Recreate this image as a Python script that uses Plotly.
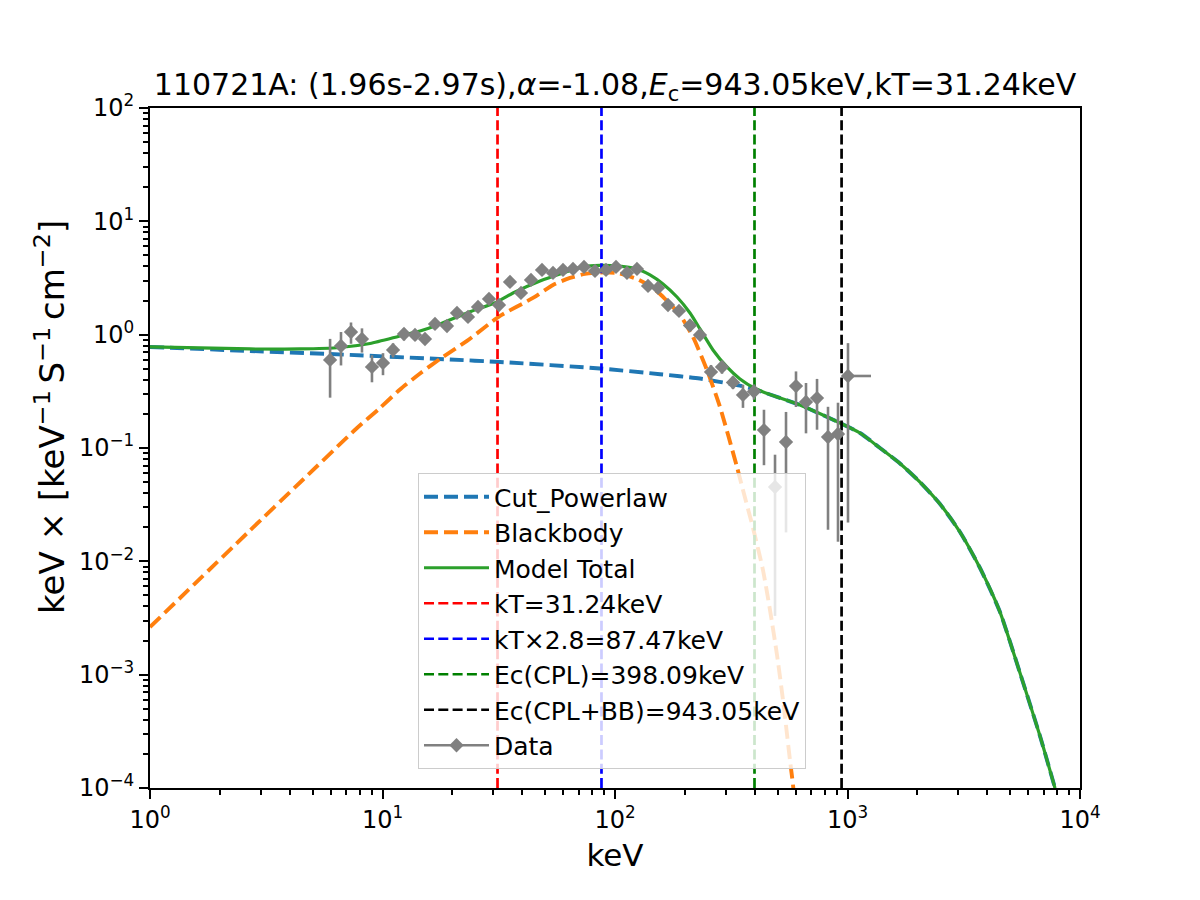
import plotly.graph_objects as go

# ---------------- data ----------------
data_x = [5.95, 6.63, 7.32, 8.16, 9.01, 10.05, 11.10, 12.37, 13.80, 15.23,
          16.82, 18.94, 20.91, 23.32, 25.75, 28.71, 31.70, 35.35, 39.41, 43.52,
          48.53, 54.12, 59.76, 65.98, 73.57, 82.03, 91.47, 101.0, 112.6, 124.3,
          138.7, 153.1, 169.0, 188.5, 210.2, 232.0, 258.8, 288.5, 321.7, 355.2,
          396.1, 437.3, 487.8, 543.9, 600.5, 663.0, 739.5, 824.5, 910.2, 1005.0]
data_y = [0.598, 0.795, 1.056, 0.916, 0.519, 0.563, 0.733, 1.014, 0.994, 0.916,
          1.243, 1.193, 1.554, 1.433, 1.756, 2.066, 1.828, 2.918, 2.333, 3.040,
          3.724, 3.505, 3.724, 3.801, 3.959, 3.650, 3.724, 3.959, 3.505, 3.801,
          2.691, 2.584, 1.828, 1.619, 1.206, 0.994, 0.469, 0.519, 0.379, 0.294,
          0.315, 0.144, 0.0453, 0.113, 0.352, 0.2547, 0.276, 0.125, 0.1329, 0.432]
data_yerr = [0.32, 0.26, 0.225, 0.221, 0.139, 0.124, 0.105, 0.124, 0.10, 0.09,
             0.08, 0.08, 0.09, 0.09, 0.10, 0.10, 0.10, 0.12, 0.12, 0.12,
             0.13, 0.13, 0.13, 0.13, 0.14, 0.14, 0.14, 0.15, 0.15, 0.16,
             0.15, 0.16, 0.14, 0.14, 0.10, 0.10, 0.07, 0.066, 0.048, 0.068,
             0.048, 0.0735, 0.042, 0.095, 0.122, 0.12, 0.131, 0.106, 0.118, 0.41]
data_xerr_plus = [0]*49 + [257.0]
data_xerr_minus = [0]*49 + [50.0]

cpl_x = [1, 2.692, 5.946, 19.51, 32.02, 86.19, 156.2, 232.0, 344.8, 396.1,
         624.6, 928.4, 1132, 1380, 1682, 2050, 2500, 3048, 3715, 4529, 5521, 6730, 7808]
cpl_y = [0.779, 0.718, 0.675, 0.604, 0.574, 0.503, 0.448, 0.410, 0.355, 0.330,
         0.2395, 0.1662, 0.1356, 0.100, 0.0730, 0.0501, 0.03203, 0.01814, 0.008729,
         0.003568, 0.001033, 2.871e-4, 9.98e-5]

bb_x = [1, 2.692, 4.418, 7.77, 9.755, 11.89, 14.50, 18.03, 23.09, 32.02, 44.39, 54.12, 64.03,
        74.30, 86.19, 102.0, 124.3, 141.4, 156.2, 172.4, 190.4, 216.5, 248.7,
        282.9, 334.7, 355.2, 392.3, 433.0, 464.2, 497.6, 528.0, 565.7, 583.0, 606.5]
bb_y = [0.00263, 0.01874, 0.0496, 0.1501, 0.2254, 0.3283, 0.4545, 0.6291, 0.8799, 1.462,
        2.109, 2.746, 3.166, 3.434, 3.540, 3.505, 3.102, 2.691, 2.287, 1.866, 1.492,
        0.9543, 0.4881, 0.2301, 0.06797, 0.04259, 0.01967, 0.008378, 0.003716,
        0.001490, 5.97e-4, 1.763e-4, 1.060e-4, 4.71e-5]

tot_x = [1, 2.692, 4.418, 6.565, 8.837, 11.89, 14.50, 17.68, 23.09, 31.08,
         36.42, 47.58, 57.99, 72.85, 86.19, 102.0, 124.3, 141.4, 160.9, 184.8,
         210.2, 232.0, 263.9, 303.1, 344.8, 400.1, 464.2, 624.6, 928.4, 1132, 1380,
         1682, 2050, 2500, 3048, 3715, 4529, 5521, 6730, 7808]
tot_y = [0.779, 0.748, 0.748, 0.771, 0.836, 0.974, 1.078, 1.243, 1.554, 1.944,
         2.334, 2.978, 3.434, 3.959, 4.081, 4.040, 3.801, 3.365, 2.803, 2.151,
         1.554, 1.123, 0.733, 0.519, 0.406, 0.335, 0.2967, 0.2395, 0.1662, 0.1356, 0.100,
         0.0730, 0.0501, 0.03203, 0.01814, 0.008729, 0.003568, 0.001033, 2.871e-4, 9.98e-5]

vlines = [
    (31.24, "kT=31.24keV", "#ff0000"),
    (87.47, "kT×2.8=87.47keV", "#0000ff"),
    (398.09, "Ec(CPL)=398.09keV", "#008000"),
    (943.05, "Ec(CPL+BB)=943.05keV", "#000000"),
]

x_tickvals = [1, 10, 100, 1000, 10000]
x_ticktext = ["10<sup>0</sup>", "10<sup>1</sup>", "10<sup>2</sup>", "10<sup>3</sup>", "10<sup>4</sup>"]
y_tickvals = [1e-4, 1e-3, 1e-2, 1e-1, 1, 10, 100]
y_ticktext = ["10<sup>\u22124</sup>", "10<sup>\u22123</sup>", "10<sup>\u22122</sup>",
              "10<sup>\u22121</sup>", "10<sup>0</sup>", "10<sup>1</sup>", "10<sup>2</sup>"]

FONT = "DejaVu Sans"

fig = go.Figure()

fig.add_trace(go.Scatter(x=cpl_x, y=cpl_y, mode="lines", name="Cut_Powerlaw",
                         line=dict(color="#1f77b4", width=3.9, dash="14px,6px", shape="spline", smoothing=0.6)))
fig.add_trace(go.Scatter(x=bb_x, y=bb_y, mode="lines", name="Blackbody",
                         line=dict(color="#ff7f0e", width=3.9, dash="14px,6px", shape="spline", smoothing=0.6)))
fig.add_trace(go.Scatter(x=tot_x, y=tot_y, mode="lines", name="Model Total",
                         line=dict(color="#2ca02c", width=3.2, shape="spline", smoothing=0.6)))

for xv, label, col in vlines:
    fig.add_trace(go.Scatter(x=[xv, xv], y=[1e-4, 1e2], mode="lines", name=label,
                             line=dict(color=col, width=2.7, dash="10px,4.3px")))

fig.add_trace(go.Scatter(
    x=data_x, y=data_y, mode="markers", name="Data", showlegend=False,
    marker=dict(symbol="diamond", size=11, color="grey"),
    error_y=dict(type="data", array=data_yerr, symmetric=True, color="grey", thickness=2.6, width=0),
    error_x=dict(type="data", array=data_xerr_plus, arrayminus=data_xerr_minus, symmetric=False,
                 color="grey", thickness=2.6, width=0),
))
fig.add_trace(go.Scatter(x=[None], y=[None], mode="lines+markers", name="Data",
                         marker=dict(symbol="diamond", size=11, color="grey"),
                         line=dict(color="grey", width=2.6)))

minor_x = [m * 10 ** k for k in range(0, 4) for m in range(2, 10)]
minor_y = [m * 10.0 ** k for k in range(-4, 2) for m in range(2, 10)]

axis_common = dict(type="log", showgrid=False, zeroline=False, showline=True, linecolor="black",
                   linewidth=2, mirror=True, ticks="outside", ticklen=9, tickwidth=2,
                   tickcolor="black", tickmode="array",
                   tickfont=dict(family=FONT, size=24, color="black"))

fig.update_layout(
    width=1200, height=900,
    margin=dict(l=150, r=120, t=108, b=112),
    paper_bgcolor="white", plot_bgcolor="white",
    font=dict(family=FONT, color="black"),
    title=dict(text="110721A: (1.96s-2.97s),<i>α</i>=-1.08,<i>E</i><sub>c</sub>=943.05keV,kT=31.24keV",
               x=615 / 1200, xanchor="center", y=1 - 84 / 900, yanchor="middle",
               font=dict(family=FONT, size=30, color="black")),
    xaxis=dict(axis_common, range=[0, 4], tickvals=x_tickvals, ticktext=x_ticktext,
               minor=dict(tickmode="array", tickvals=minor_x, ticks="outside", ticklen=5,
                          tickwidth=1.5, tickcolor="black", showgrid=False),
               title=dict(text="keV", font=dict(family=FONT, size=31, color="black"), standoff=12)),
    yaxis=dict(axis_common, range=[-4, 2], tickvals=y_tickvals, ticktext=y_ticktext,
               minor=dict(tickmode="array", tickvals=minor_y, ticks="outside", ticklen=5,
                          tickwidth=1.5, tickcolor="black", showgrid=False)),
    annotations=[dict(
        text="keV × [keV<sup>\u22121</sup>\u2009S<sup>\u22121</sup>\u2009cm<sup>\u22122</sup>]",
        textangle=-90, xref="paper", yref="paper",
        x=-(150 - 50) / 930, xanchor="center", y=(788 - 417) / 680, yanchor="middle",
        showarrow=False, font=dict(family=FONT, size=34, color="black"))],
    legend=dict(x=(418 - 150) / 930, xanchor="left", y=(788 - 473) / 680, yanchor="top",
                bgcolor="rgba(255,255,255,0.8)", bordercolor="#cccccc", borderwidth=1,
                font=dict(family=FONT, size=25, color="black"), itemwidth=65,
                traceorder="normal"),
    showlegend=True,
)

fig.write_html("out.html")
